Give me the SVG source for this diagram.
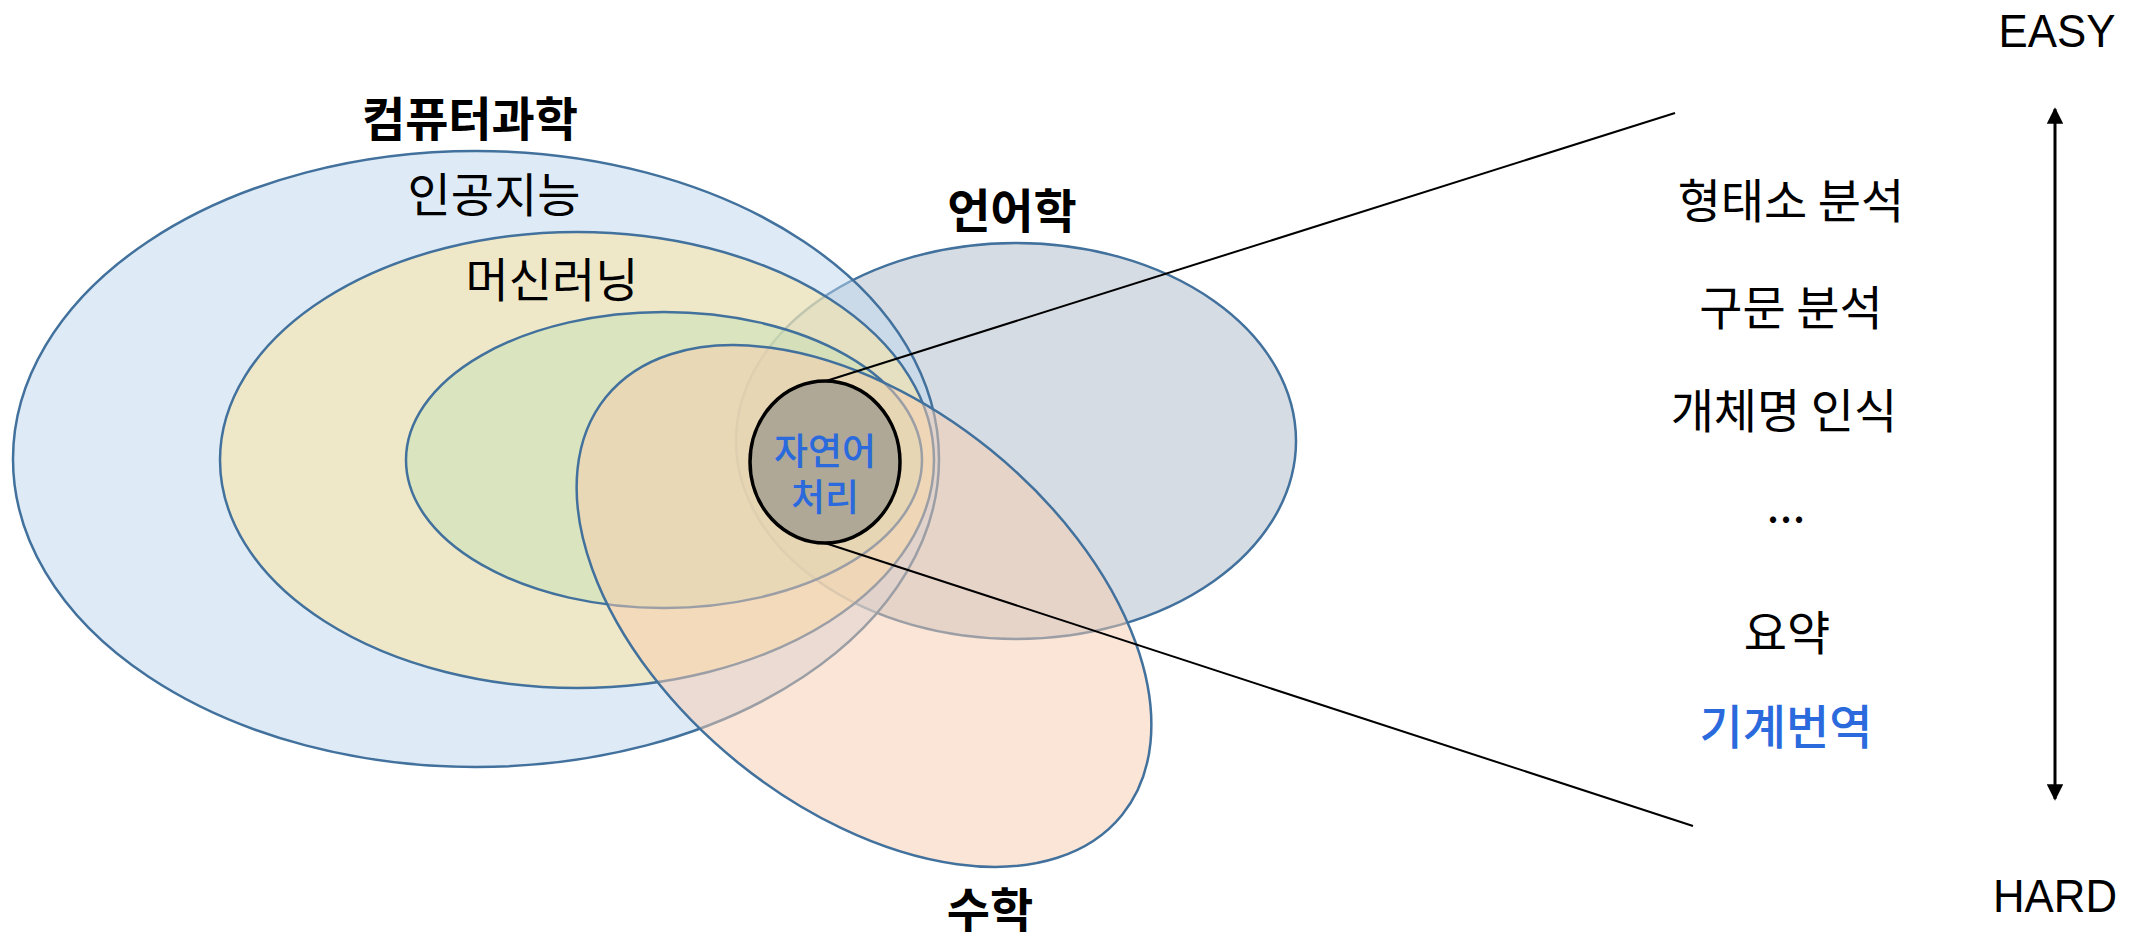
<svg xmlns="http://www.w3.org/2000/svg" width="2153" height="941" viewBox="0 0 2153 941">
<defs>
<style>
.set{stroke:#41719c;stroke-width:2.5;fill-opacity:0.5}
.t{font-family:"Noto Sans CJK KR","Noto Sans",sans-serif;font-size:47px;fill:#000;text-anchor:middle}
.b{font-weight:bold}
.en{font-family:"Liberation Sans",Arial,sans-serif;font-size:47px;fill:#000;text-anchor:middle}
.link{stroke:#000;stroke-width:2;fill:none}
.nl{font-size:37px;fill:#2a6add;font-weight:500}
</style>
<marker id="ah" viewBox="0 0 10 10" refX="9" refY="5" markerWidth="5.5" markerHeight="5.5" orient="auto-start-reverse" markerUnits="strokeWidth">
<path d="M0,0 L10,5 L0,10 z" fill="#000"/>
</marker>
</defs>
<rect width="2153" height="941" fill="#fff"/>
<g id="linguistics"><ellipse class="set" cx="1016" cy="441" rx="280" ry="198" fill="#adb9ca"/></g>
<g id="computer-science"><ellipse class="set" cx="476" cy="459" rx="463" ry="308" fill="#bdd7ee"/></g>
<g id="machine-learning"><ellipse class="set" cx="577" cy="460" rx="357" ry="228" fill="#ffe699"/></g>
<g id="deep-inner"><ellipse class="set" cx="664" cy="460" rx="258" ry="148" fill="#c5e0b4"/></g>
<g id="math"><ellipse class="set" cx="864" cy="606" rx="332" ry="201" transform="rotate(39 864 606)" fill="#f8cbad"/></g>
<g id="nlp">
<ellipse cx="825" cy="462" rx="75" ry="81" fill="#b0a897" stroke="#000" stroke-width="3.5"/>
<text class="t nl" x="825" y="465">자연어</text>
<text class="t nl" x="825" y="511">처리</text>
</g>
<g id="connectors">
<line class="link" x1="826" y1="381" x2="1675" y2="113"/>
<line class="link" x1="825" y1="543" x2="1693" y2="826"/>
<line x1="2055" y1="109" x2="2055" y2="799" stroke="#000" stroke-width="3" marker-start="url(#ah)" marker-end="url(#ah)"/>
</g>
<g id="labels">
<text class="t b" x="470" y="136">컴퓨터과학</text>
<text class="t" x="494" y="212">인공지능</text>
<text class="t" x="552" y="297">머신러닝</text>
<text class="t b" x="1012" y="228">언어학</text>
<text class="t b" x="990" y="927">수학</text>
</g>
<g id="tasks">
<text class="t" x="1791" y="218">형태소 분석</text>
<text class="t" x="1791" y="325">구문 분석</text>
<text class="t" x="1784" y="428">개체명 인식</text>
<text class="t" x="1786" y="522">...</text>
<text class="t" x="1787" y="650">요약</text>
<text class="t" x="1786" y="744" style="fill:#2a6add;font-weight:500">기계번역</text>
</g>
<g id="scale">
<text class="en" x="2057" y="47" textLength="117" lengthAdjust="spacingAndGlyphs">EASY</text>
<text class="en" x="2055" y="912" textLength="124" lengthAdjust="spacingAndGlyphs">HARD</text>
</g>
</svg>
